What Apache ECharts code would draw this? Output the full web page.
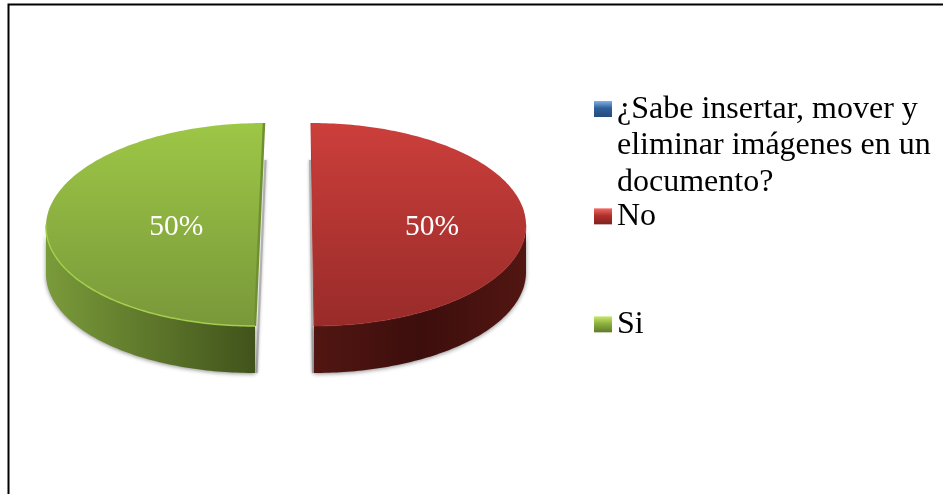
<!DOCTYPE html>
<html><head><meta charset="utf-8">
<style>html,body{margin:0;padding:0;background:#fff}#c{width:943px;height:494px}</style>
<script src="https://cdn.jsdelivr.net/npm/echarts@6/dist/echarts.min.js"></script>
</head><body><div id="c"></div>
<script>
const categories = ['¿Sabe insertar, mover y\neliminar imágenes en un\ndocumento?', 'No', 'Si'];
const values = [0, 50, 50];
const seriesTop = [['#4F81BD','#4F81BD'], ['#CC3F3B','#982B29'], ['#9DC746','#79983A']];
const seriesWall = [['#2A4A70','#1D3552'], ['#3C0E0C','#521612'], ['#7A9B3A','#41531B']];
const seriesRim = ['#6A9AD0', 'rgba(170,50,48,0.35)', '#A4CF4E'];
const seriesEdge = ['#3A6090', '#B03532', '#6E9030'];
const legendTop = [['#7FB0E8','#2F5F99','#264C7A'], ['#F06A66','#B2302D','#7C2220'], ['#C6E86A','#8FB03F','#5E7B2A']];

const CX = 286, CY = 224.5, RX = 213.5, RY = 101.5, DEPTH = 47, EXPLODE = 26.5;
const shear = [0, -1.5, 4.5];
const labelReach = [0, 0.56, 0.39];
const total = values.reduce((a, b) => a + b, 0);

function renderSlice(params) {
  const i = params.seriesIndex;
  if (!values[i]) return { type: 'group', children: [] };
  const before = values.slice(0, i).reduce((a, b) => a + b, 0);
  const a0 = before / total * 360, a1 = (before + values[i]) / total * 360;
  const mid = (a0 + a1) / 2 * Math.PI / 180;
  const ox = CX + Math.sin(mid) * EXPLODE;
  const pt = (deg, dy) => {
    const t = deg * Math.PI / 180;
    return [ox + RX * Math.sin(t) + shear[i] * Math.cos(t), CY - RY * Math.cos(t) + (dy || 0)];
  };
  const arc = (from, to, dy) => {
    const out = [], n = Math.max(1, Math.round(Math.abs(to - from)));
    for (let k = 0; k <= n; k++) out.push(pt(from + (to - from) * k / n, dy));
    return out;
  };
  const grad = (x2, y2, stops) => new echarts.graphic.LinearGradient(0, 0, x2, y2,
    stops.map((c, k) => ({ offset: k / (stops.length - 1), color: c })));
  const wFrom = Math.max(a0, 90), wTo = Math.min(a1, 270);
  const wall = arc(wFrom, wTo, 0).concat(arc(wTo, wFrom, DEPTH));
  const topFace = arc(a0, a1, 0);
  const front = arc(wFrom, wTo, 0);
  const cutFar = pt(a1 === 360 ? 0 : a0, 0), cutNear = pt(180, 0);
  const side = i === 2 ? 1.5 : -1;
  const shSide = [[cutFar[0] + side, cutFar[1] + 37], [cutNear[0] + side, cutNear[1] + DEPTH]];
  const lp = [ox + Math.sin(mid) * RX * labelReach[i], CY + 2.5];
  return {
    type: 'group',
    children: [
      { type: 'polyline', shape: { points: shSide }, style: { fill: null, stroke: '#B0B0B0', lineWidth: 2, shadowBlur: 3, shadowColor: 'rgba(0,0,0,.35)' }, silent: true },
      { type: 'polygon', shape: { points: wall }, style: { fill: grad(1, 0, i === 1 ? [seriesWall[i][1], seriesWall[i][0], seriesWall[i][1]] : seriesWall[i]), shadowBlur: 4, shadowColor: 'rgba(0,0,0,.45)', shadowOffsetY: 1 } },
      { type: 'polygon', shape: { points: topFace }, style: { fill: grad(0, 1, seriesTop[i]) } },
      { type: 'polyline', shape: { points: [cutFar, cutNear] }, style: { fill: null, stroke: seriesEdge[i], lineWidth: i === 2 ? 2.5 : 1 } },
      { type: 'polyline', shape: { points: front }, style: { fill: null, stroke: seriesRim[i], lineWidth: 1.5 } },
      { type: 'text', x: lp[0], y: lp[1], style: { text: Math.round(values[i] / total * 100) + '%', fill: '#fff', font: '29.5px "Liberation Serif"', align: 'center', verticalAlign: 'middle' } }
    ]
  };
}

const legendBase = (name, idx, top, icon, h) => ({
  data: [name], left: 594, top, padding: 0, orient: 'vertical', selectedMode: false,
  icon, itemWidth: 18, itemHeight: h,
  itemStyle: {
    color: new echarts.graphic.LinearGradient(0, idx === 0 ? 10 / 110 : 0, 0, idx === 0 ? 26 / 110 : 1, [
      { offset: 0, color: legendTop[idx][0] }, { offset: 0.45, color: legendTop[idx][1] }, { offset: 1, color: legendTop[idx][2] }
    ]), borderWidth: 0
  },
  textStyle: { fontFamily: 'Liberation Serif', fontSize: 32, lineHeight: 36.7, color: '#000' }
});

const chart = echarts.init(document.getElementById('c'), null, { renderer: 'canvas' });
chart.setOption({
  animation: false,
  backgroundColor: '#fff',
  graphic: [{ type: 'rect', shape: { x: 8.5, y: 4.5, width: 1000, height: 1000 }, style: { fill: null, stroke: '#000', lineWidth: 2 }, silent: true }],
  legend: [
    legendBase(categories[0], 0, 91, 'path://M0,0L0,0ZM0,10H18V26H0ZM18,110L18,110Z', 110),
    legendBase(categories[1], 1, 198, 'rect', 16),
    legendBase(categories[2], 2, 306, 'rect', 16)
  ],
  series: categories.map((name, i) => ({
    type: 'custom', name, coordinateSystem: 'none', silent: true,
    data: [values[i]], renderItem: renderSlice,
    itemStyle: { color: seriesTop[i][0] }
  }))
});
</script></body></html>
